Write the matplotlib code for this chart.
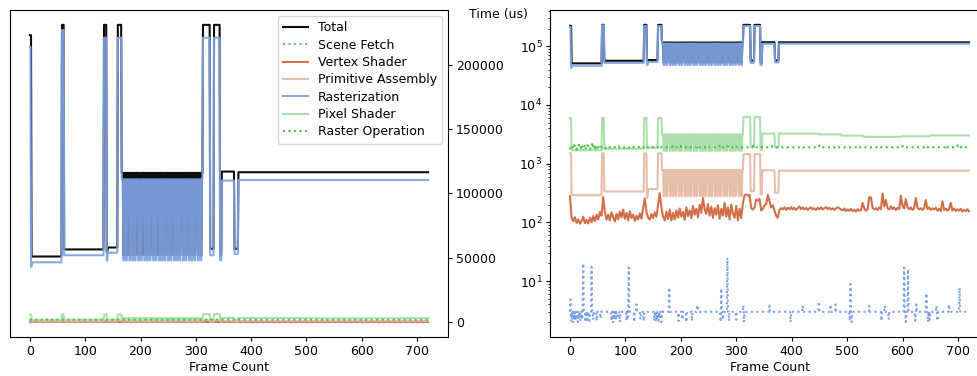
import numpy as np
import matplotlib
matplotlib.use("Agg")
import matplotlib.pyplot as plt

N_FRAMES = 721

# ---- piecewise levels: (start, stop, value) ----
total_segments = [(0, 3, 223000), (3, 58, 51000), (58, 62, 231000), (62, 134, 56500),
                  (134, 139, 231000), (139, 141, 54000), (141, 159, 58000), (159, 166, 231000),
                  (166, 313, 116000), (313, 326, 231000), (326, 333, 57000), (333, 344, 231000),
                  (344, 347, 52000), (347, 370, 117000), (370, 377, 57000), (377, 721, 116500)]
raster_segments = [(0, 2, 214000), (2, 4, 43000), (4, 58, 46500), (58, 62, 227000), (62, 134, 52000),
                   (134, 139, 221000), (139, 141, 48000), (141, 159, 54000), (159, 166, 221000),
                   (166, 313, 111000), (313, 326, 221000), (326, 333, 52000), (333, 344, 221000),
                   (344, 347, 48000), (347, 370, 110000), (370, 377, 53000), (377, 721, 110500)]
pixel_segments = [(0, 3, 6000), (3, 58, 1690), (58, 62, 6000), (62, 134, 1800), (134, 139, 6000),
                  (139, 159, 1850), (159, 166, 6000), (166, 313, 3150), (313, 326, 6250),
                  (326, 333, 1900), (333, 344, 6250), (344, 347, 1700), (347, 370, 3250),
                  (370, 377, 1900), (377, 450, 3250), (450, 490, 3150), (490, 530, 3000),
                  (530, 600, 2870), (600, 650, 2930), (650, 721, 3030)]
prim_segments = [(0, 3, 1500), (3, 58, 290), (58, 62, 1500), (62, 134, 335), (134, 139, 1500),
                 (139, 141, 264), (141, 159, 370), (159, 166, 1500), (166, 313, 780), (313, 326, 1450),
                 (326, 333, 338), (333, 344, 1450), (344, 347, 300), (347, 370, 770),
                 (370, 377, 320), (377, 721, 760)]

# frames of the short (2-frame) dips in the alternating section 166-312
osc_dip_frames = [169, 174, 180, 185, 190, 196, 201, 207, 212, 217, 223, 228, 234, 239,
                  244, 250, 255, 261, 266, 271, 277, 282, 288, 293, 298, 304, 309]
osc_dip_length = 2
total_dip, raster_dip, pixel_dip, prim_dip = 52000, 48000, 1650, 280

# Vertex shader, one value every 3 frames
vertex_step = 3
vertex_values = [
    280, 118, 105, 122, 98, 112, 95, 106, 125, 97, 110, 96, 120, 100, 128, 105, 135, 112, 150, 130,
    270, 150, 112, 135, 108, 148, 122, 104, 140, 112, 152, 122, 165, 115, 145, 108, 155, 118, 135, 106,
    130, 112, 142, 115, 175, 255,
    150, 120, 112, 138, 118, 148, 125, 200, 315, 180,
    125, 108, 152, 115, 165, 108, 145, 112, 160, 120, 172, 125, 150, 110, 180, 128, 160, 118, 190, 135,
    170, 122, 200, 145, 260, 165, 140, 205, 130, 185, 120, 175, 135, 195, 115, 170, 130, 215, 125, 180,
    112, 200, 140, 120, 190, 108, 170, 118, 210,
    290, 300, 285, 295, 175, 165, 180, 245, 235, 250, 160,
    170, 195, 205, 295, 230, 180, 195, 160, 130, 120,
    165, 175, 166, 180, 163, 177, 168, 182, 166, 178, 163, 174, 188, 168, 180, 166, 176, 163, 174, 180,
    166, 174, 163, 177, 168, 180, 166, 174, 182, 168, 177, 166, 174, 163, 172, 180, 174, 166, 160, 172,
    156, 167, 158, 170, 156, 164, 153, 167, 158, 160, 215, 172, 158, 167, 270, 265, 177, 166, 174, 163,
    180, 168, 310, 187, 240, 173, 166, 187, 168, 180, 163, 177, 168, 285, 192, 173, 250, 182, 168, 180,
    163, 174, 260, 177, 166, 174, 163, 177, 240, 168, 180, 163, 174, 166, 177, 158, 170, 156, 230, 163,
    172, 158, 170, 215, 160, 172, 156, 167, 158, 170, 153, 164, 156, 167, 155]

# Scene fetch: base level plus events (frame, value)
scene_base = 3.0
scene_event_frames = [1, 24, 39, 106, 120, 179, 230, 273, 284, 313, 360, 420, 449, 470, 479,
                      506, 540, 568, 603, 610, 625, 643, 661, 684, 703,
                      2, 4, 6, 8, 10, 14, 16, 19, 22, 28, 31, 35, 42, 48, 55, 75, 78, 80, 83, 86,
                      90, 102, 104, 116, 127, 133, 152, 155, 157, 160, 162, 165, 196, 203, 210,
                      220, 272, 276, 287, 300, 314, 398, 505, 508, 562, 575, 606, 623, 646, 649, 663]
scene_event_values = [4.9, 20, 17.5, 17, 4.0, 7.8, 3.9, 7.5, 25, 3.9, 3.8, 3.8, 4.5, 4.0, 4.0,
                      8.9, 3.8, 3.8, 17, 16, 4.0, 6.2, 3.8, 4.0, 7.7,
                      2.1, 2.3, 2.0, 2.2, 2.1, 2.0, 2.3, 2.1, 2.2, 2.0, 2.2, 2.1, 2.2, 2.1, 2.3, 2.1, 2.0, 2.2, 2.1, 2.3,
                      2.0, 2.1, 2.2, 2.0, 2.2, 2.1, 2.1, 2.0, 2.2, 2.1, 2.3, 2.0, 2.1, 2.2, 2.0,
                      2.1, 2.0, 2.2, 2.1, 2.2, 2.0, 2.0, 2.1, 2.0, 2.1, 2.2, 2.0, 2.1, 2.0, 2.2, 2.1]

# Raster operation: base level plus events (frame, value)
rop_base = 1900
rop_event_frames = [0, 2, 4, 6, 8, 10, 12, 14, 16, 18, 20, 22, 24, 26, 28, 30, 32, 34, 36, 38, 40,
                    42, 44, 46, 48, 50, 52, 54, 56, 58, 64, 70, 76, 82, 88, 94, 100, 106, 112, 118,
                    124, 130, 136, 142, 148, 154, 160, 185, 200, 215, 230, 250, 270, 285, 300, 330,
                    345, 365, 420, 450, 480, 520, 560, 600, 640, 680, 700, 710]
rop_event_values = [1750, 2000, 1950, 1800, 2050, 1900, 1750, 1950, 2100, 1850, 1700, 1950, 1800,
                    2000, 1720, 1850, 2050, 1900, 1760, 1950, 2150, 2000, 1780, 1700, 1850, 1750,
                    1900, 1800, 1950, 1850, 1820, 1950, 1850, 1900, 1980, 1870, 1920, 1850, 1960,
                    1880, 1930, 1850, 1990, 1870, 1920, 1850, 1800, 1980, 2000, 1960, 2020, 1980,
                    2050, 2000, 1980, 2000, 1950, 1990, 1950, 2030, 1960, 1980, 1960, 2000, 1980,
                    2030, 2060, 1950]

labels = ["Total", "Scene Fetch", "Vertex Shader", "Primitive Assembly",
          "Rasterization", "Pixel Shader", "Raster Operation"]
colors = ["black", "#7b9fe8", "#d0673f", "#e2b49d", "#7ea4e6", "#9fd99f", "#3fc83f"]
styles = ["-", ":", "-", "-", "-", "-", ":"]
alphas = [0.95, 1.0, 0.95, 0.85, 0.93, 0.85, 1.0]


def from_segments(segs):
    arr = np.zeros(N_FRAMES)
    for a, b, v in segs:
        arr[a:b] = v
    return arr


def apply_dips(arr, low):
    arr = arr.copy()
    for d in osc_dip_frames:
        arr[d:d + osc_dip_length] = low
    return arr


def from_events(base, fr, vals):
    arr = np.full(N_FRAMES, float(base))
    arr[fr] = vals
    return arr


frames = np.arange(N_FRAMES)
total = apply_dips(from_segments(total_segments), total_dip)
raster = apply_dips(from_segments(raster_segments), raster_dip)
pixel = apply_dips(from_segments(pixel_segments), pixel_dip)
prim = apply_dips(from_segments(prim_segments), prim_dip)
scene = from_events(scene_base, scene_event_frames, scene_event_values)
rop = from_events(rop_base, rop_event_frames, rop_event_values)
vertex_frames = np.arange(len(vertex_values)) * vertex_step
vertex = np.array(vertex_values, dtype=float)

series = [(frames, total), (frames, scene), (vertex_frames, vertex), (frames, prim),
          (frames, raster), (frames, pixel), (frames, rop)]

plt.rcParams["font.size"] = 9
plt.rcParams["xtick.major.size"] = 3
plt.rcParams["ytick.major.size"] = 3
plt.rcParams["xtick.major.pad"] = 2.5
plt.rcParams["ytick.major.pad"] = 2.5
plt.rcParams["ytick.minor.size"] = 1.8

fig = plt.figure(figsize=(9.77, 3.76), dpi=100)
ax1 = fig.add_axes([10 / 977, 39 / 376, 438 / 977, 327 / 376])
ax2 = fig.add_axes([550 / 977, 39 / 376, 439 / 977, 327 / 376])

for ax in (ax1, ax2):
    for (x, y), lab, c, ls, a in zip(series, labels, colors, styles, alphas):
        ax.plot(x, y, color=c, linestyle=ls, linewidth=1.5, alpha=a, label=lab)
    ax.set_xlabel("Frame Count", labelpad=2.5)
    ax.set_xticks(range(0, 701, 100))

ax1.yaxis.tick_right()
ax1.yaxis.set_label_position("right")
ax1.set_ylabel("Time (us)", rotation=0, ha="center", va="center")
ax1.yaxis.set_label_coords(1.116, 0.985)
ax1.legend(loc="upper right", labelspacing=0.35)

ax2.set_yscale("log")

fig.savefig("out.png", dpi=100)
